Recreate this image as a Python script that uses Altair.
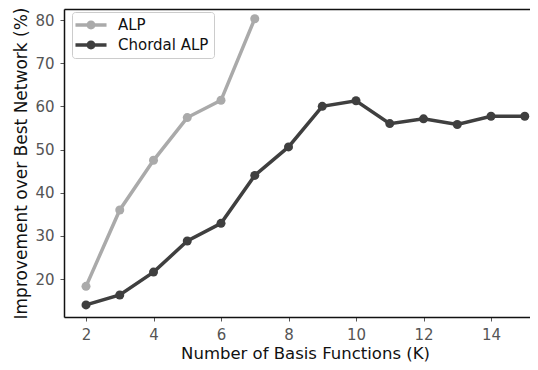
import altair as alt
import pandas as pd

k_alp = [2, 3, 4, 5, 6, 7]
alp = [18.3, 36.0, 47.5, 57.4, 61.4, 80.3]
k_chordal = [2, 3, 4, 5, 6, 7, 8, 9, 10, 11, 12, 13, 14, 15]
chordal = [14.0, 16.3, 21.6, 28.8, 32.9, 44.0, 50.6, 60.0, 61.3, 56.0, 57.1, 55.8, 57.7, 57.7]
series_names = ["ALP", "Chordal ALP"]
series_colors = ["#aaaaaa", "#3f3f3f"]
x_ticks = [2, 4, 6, 8, 10, 12, 14]
y_ticks = [20, 30, 40, 50, 60, 70, 80]

rows = []
for k, v in zip(k_alp, alp):
    rows.append({"K": k, "value": v, "series": "ALP"})
for k, v in zip(k_chordal, chordal):
    rows.append({"K": k, "value": v, "series": "Chordal ALP"})
df = pd.DataFrame(rows)

FONT = "DejaVu Sans"
# line + circle legend glyph (unit coordinates scaled by sqrt(size)/2 = 8px)
legend_path = ("M-1.94,-0.21 L1.94,-0.21 L1.94,0.21 L-1.94,0.21 Z "
               "M0.56,0 A0.56,0.56 0 1,1 -0.56,0 A0.56,0.56 0 1,1 0.56,0 Z")

xscale = alt.Scale(domain=[1.348, 15.155], nice=False, zero=False)
yscale = alt.Scale(domain=[11.2, 82.55], nice=False, zero=False)
cscale = alt.Scale(domain=series_names, range=series_colors)

xaxis = alt.Axis(values=x_ticks, title="Number of Basis Functions (K)", grid=False,
                 labelFontSize=15, titleFontSize=16.5, labelColor="#555555",
                 titleColor="#111111", tickColor="#555555", tickSize=4,
                 tickWidth=1, domainColor="#111111", domainWidth=1.5,
                 labelPadding=6, titlePadding=3, titleFontWeight="normal",
                 titleX=241, labelFont=FONT, titleFont=FONT)
yaxis = alt.Axis(values=y_ticks, title="Improvement over Best Network (%)", grid=False,
                 labelFontSize=15, titleFontSize=17, labelColor="#555555",
                 titleColor="#111111", tickColor="#555555", tickSize=4,
                 tickWidth=1, domainColor="#111111", domainWidth=1.5,
                 labelPadding=6, titlePadding=4, titleFontWeight="normal",
                 labelFont=FONT, titleFont=FONT)

legend = alt.Legend(title=None, orient="none", legendX=8, legendY=3,
                    symbolType=legend_path, symbolSize=256, symbolStrokeWidth=0,
                    symbolOffset=6, labelOffset=19, rowPadding=4, padding=5,
                    labelFontSize=15, labelFont=FONT, labelColor="#111111",
                    strokeColor="#cccccc", fillColor="white", cornerRadius=3,
                    symbolOpacity=1)

base = alt.Chart(df)
lines = base.mark_line(strokeWidth=3.5).encode(
    x=alt.X("K:Q", scale=xscale, axis=xaxis),
    y=alt.Y("value:Q", scale=yscale, axis=yaxis),
    color=alt.Color("series:N", scale=cscale, legend=legend),
    detail="series:N",
)
points = base.mark_point(filled=True, size=81, opacity=1).encode(
    x=alt.X("K:Q", scale=xscale, axis=alt.Axis(orient="top", labels=False, ticks=False,
                                               title=None, grid=False, domainColor="#111111",
                                               domainWidth=1.5)),
    y=alt.Y("value:Q", scale=yscale, axis=yaxis),
    color=alt.Color("series:N", scale=cscale, legend=legend),
)

chart = alt.layer(lines, points).resolve_axis(x="independent").properties(
    width=466, height=308,
    autosize=alt.AutoSizeParams(type="none"),
    padding={"left": 56, "top": 1, "right": 0, "bottom": 45},
).configure_view(strokeWidth=0, stroke="transparent").configure(background="white")

chart.save("out.html", embed_options={"renderer": "svg", "actions": False})
